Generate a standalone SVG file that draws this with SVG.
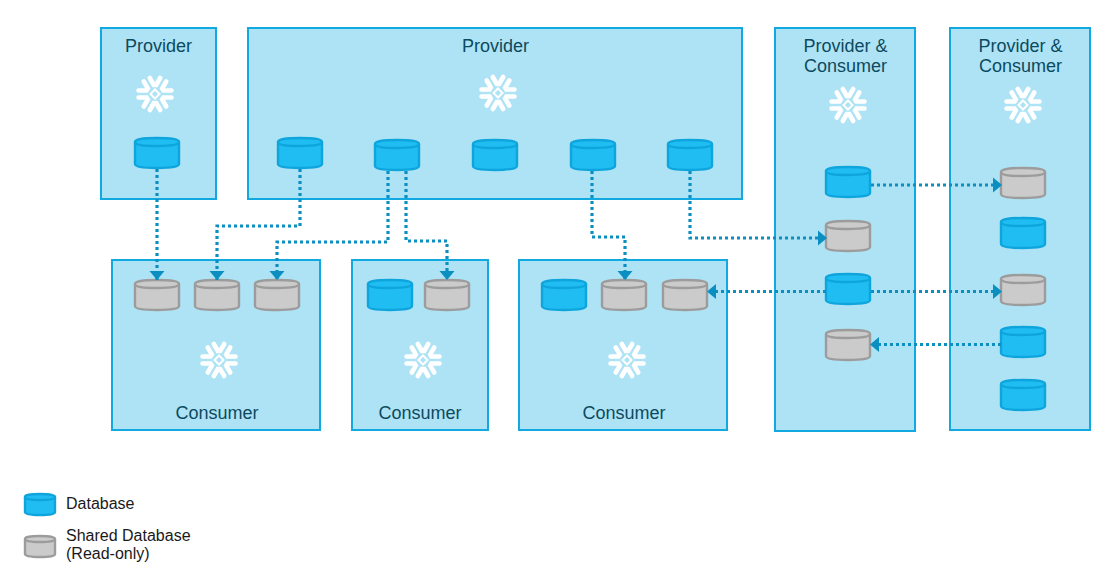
<svg xmlns="http://www.w3.org/2000/svg" xmlns:xlink="http://www.w3.org/1999/xlink" width="1118" height="577" viewBox="0 0 1118 577">
<style>
text{font-family:"Liberation Sans",Arial,sans-serif}
.box{fill:#aee3f5;stroke:#11a9e0;stroke-width:2}
.t{font-size:18px;fill:#0c4a5e;text-anchor:middle}
.l{font-size:16px;fill:#1a1a1a}
.c{fill:none;stroke:#0b8fc0;stroke-width:3.2;stroke-dasharray:3 3}
.blue{fill:#20bdf3;stroke:#0ea5dd;stroke-width:2.400}
.gray{fill:#cbcbcb;stroke:#9c9c9c;stroke-width:2.400}
.arm{fill:none;stroke:#fff;stroke-width:4.600;stroke-linecap:round;stroke-linejoin:miter}
</style>
<defs>
<marker id="a" markerUnits="userSpaceOnUse" markerWidth="11" markerHeight="18" refX="9" refY="9" orient="auto-start-reverse"><path d="M0 1.500L9 9L0 16.500Z" fill="#0b8fc0"/></marker>
<path id="arm" class="arm" d="M-5.200-16L-1.200-9H1.200L5.200-16"/>
<g id="sf">
<use xlink:href="#arm"/><use xlink:href="#arm" transform="rotate(60)"/><use xlink:href="#arm" transform="rotate(120)"/><use xlink:href="#arm" transform="rotate(180)"/><use xlink:href="#arm" transform="rotate(240)"/><use xlink:href="#arm" transform="rotate(300)"/>
<path d="M0-4.500L4.500 0L0 4.500L-4.500 0Z" fill="none" stroke="#fff" stroke-width="2"/>
</g>
<g id="cyl"><path d="M0 5V27Q0 31 22 31T44 27V5Q44 1 22 1T0 5Z"/><path d="M0 5Q0 9 22 9T44 5" fill="none"/></g>
<g id="cylS"><path d="M0 4V19Q0 22 15 22T30 19V4Q30 1 15 1T0 4Z"/><path d="M0 4Q0 7 15 7T30 4" fill="none"/></g>
</defs>
<rect width="1118" height="577" fill="#fff"/>

<g id="provider-1"><rect class="box" x="101" y="28" width="115" height="171"/><text class="t" x="158.500" y="52">Provider</text><use xlink:href="#sf" x="155" y="94"/><use xlink:href="#cyl" class="blue" x="135" y="137"/></g>
<g id="provider-2"><rect class="box" x="248" y="28" width="494" height="171"/><text class="t" x="495.500" y="52">Provider</text><use xlink:href="#sf" x="498" y="93"/>
<use xlink:href="#cyl" class="blue" x="278" y="137"/><use xlink:href="#cyl" class="blue" x="375" y="139"/><use xlink:href="#cyl" class="blue" x="473" y="139"/><use xlink:href="#cyl" class="blue" x="571" y="139"/><use xlink:href="#cyl" class="blue" x="668" y="139"/></g>
<g id="provider-consumer-1"><rect class="box" x="775" y="28" width="140" height="403"/><text class="t" x="845.500" y="52">Provider &amp;</text><text class="t" x="845.500" y="72">Consumer</text><use xlink:href="#sf" x="848" y="105"/>
<use xlink:href="#cyl" class="blue" x="826" y="166"/><use xlink:href="#cyl" class="gray" x="826" y="220"/><use xlink:href="#cyl" class="blue" x="826" y="273"/><use xlink:href="#cyl" class="gray" x="826" y="329"/></g>
<g id="provider-consumer-2"><rect class="box" x="950" y="28" width="140" height="402"/><text class="t" x="1020.500" y="52">Provider &amp;</text><text class="t" x="1020.500" y="72">Consumer</text><use xlink:href="#sf" x="1023" y="105"/>
<use xlink:href="#cyl" class="gray" x="1001" y="167"/><use xlink:href="#cyl" class="blue" x="1001" y="217"/><use xlink:href="#cyl" class="gray" x="1001" y="274"/><use xlink:href="#cyl" class="blue" x="1001" y="326"/><use xlink:href="#cyl" class="blue" x="1001" y="379"/></g>
<g id="consumer-1"><rect class="box" x="112" y="260" width="208" height="170"/><text class="t" x="217" y="419">Consumer</text><use xlink:href="#sf" x="219" y="360"/>
<use xlink:href="#cyl" class="gray" x="135" y="279"/><use xlink:href="#cyl" class="gray" x="195" y="279"/><use xlink:href="#cyl" class="gray" x="255" y="279"/></g>
<g id="consumer-2"><rect class="box" x="352" y="260" width="136" height="170"/><text class="t" x="420" y="419">Consumer</text><use xlink:href="#sf" x="423" y="360"/>
<use xlink:href="#cyl" class="blue" x="368" y="279"/><use xlink:href="#cyl" class="gray" x="425" y="279"/></g>
<g id="consumer-3"><rect class="box" x="519" y="260" width="208" height="170"/><text class="t" x="624" y="419">Consumer</text><use xlink:href="#sf" x="627" y="360"/>
<use xlink:href="#cyl" class="blue" x="542" y="279"/><use xlink:href="#cyl" class="gray" x="602" y="279"/><use xlink:href="#cyl" class="gray" x="663" y="279"/></g>

<g id="connectors">
<path class="c" marker-end="url(#a)" d="M157 169V280"/>
<path class="c" marker-end="url(#a)" d="M300 169V226H217V280"/>
<path class="c" marker-end="url(#a)" d="M388 171V242H277V280"/>
<path class="c" marker-end="url(#a)" d="M406 171V241H447V280"/>
<path class="c" marker-end="url(#a)" d="M592 171V237H625V280"/>
<path class="c" marker-end="url(#a)" d="M690 171V238H827"/>
<path class="c" marker-end="url(#a)" d="M871 185H1002"/>
<path class="c" marker-end="url(#a)" d="M826 291.500H707"/>
<path class="c" marker-end="url(#a)" d="M871 291.500H1002"/>
<path class="c" marker-end="url(#a)" d="M1001 344.500H870"/>
</g>

<g id="legend-database"><use xlink:href="#cylS" class="blue" x="25" y="493"/><text class="l" x="66" y="509">Database</text></g>
<g id="legend-shared"><use xlink:href="#cylS" class="gray" x="25" y="535"/><text class="l" x="66" y="541">Shared Database</text><text class="l" x="66" y="559">(Read-only)</text></g>
</svg>
